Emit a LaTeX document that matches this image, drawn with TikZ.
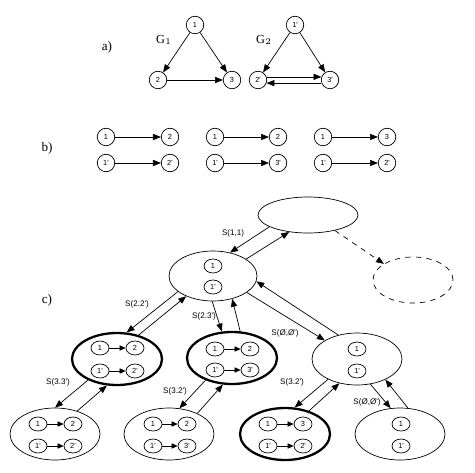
\documentclass[tikz,border=0pt]{standalone}
\usepackage{fontspec}
\setmainfont{Liberation Serif}
\newfontfamily\labfont{Liberation Sans}
\usetikzlibrary{shapes.geometric,arrows.meta}
\tikzset{
	vert/.style={circle,draw,inner sep=0pt,minimum size=0.35cm,font=\labfont\fontsize{4.2}{5}\selectfont},
	vin/.style={ellipse,draw,inner sep=0pt,minimum width=0.36cm,minimum height=0.28cm,font=\labfont\fontsize{4.2}{5}\selectfont},
	state/.style={ellipse,draw,inner sep=0pt,minimum width=1.8cm,minimum height=1.04cm},
	best/.style={state,line width=1.3pt},
	arr/.style={-{Triangle[length=4.5pt,width=3.5pt]}},
	sarr/.style={-{Triangle[length=3.5pt,width=3pt]}},
	slabel/.style={inner sep=0pt,font=\labfont\fontsize{4.6}{5.5}\selectfont},
	part/.style={inner sep=0pt,font=\fontsize{7.5}{8}\selectfont},
	gname/.style={inner sep=0pt,font=\fontsize{7}{8}\selectfont}
}

\begin{document}
\begin{tikzpicture}[x=0.02cm,y=-0.02cm]
	\useasboundingbox (0,0) rectangle (475,472);
	% a)
	\node[part] (pa) at (107,47){a)};
	\node[gname] (g1) at (164,40){G$_1$};
	\node[gname] (g2) at (264,40){G$_2$};
	\node[vert] (a1) at (195,25){1};
	\node[vert] (a2) at (158,80){2};
	\node[vert] (a3) at (232,80){3};
	\node[vert] (c1) at (295,25){1'};
	\node[vert] (c2) at (258,80){2'};
	\node[vert] (c3) at (330,80){3'};
	\draw[arr] (a1) -- (a2);
	\draw[arr] (a1) -- (a3);
	\draw[arr] (a2) -- (a3);
	\draw[arr] (c1) -- (c2);
	\draw[arr] (c1) -- (c3);
	\draw[arr] (c2.20) -- (c3.160);
	\draw[arr] (c3.200) -- (c2.340);
	% b)
	\node[part] (pb) at (47,148){b)};
	\node[vert] (b1) at (106,137){1};
	\node[vert] (b2) at (170,137){2};
	\node[vert] (b3) at (215,137){1};
	\node[vert] (b4) at (278,137){2};
	\node[vert] (b5) at (323,137){1};
	\node[vert] (b6) at (387,137){3};
	\node[vert] (d1) at (106,163){1'};
	\node[vert] (d2) at (170,163){2'};
	\node[vert] (d3) at (215,163){1'};
	\node[vert] (d4) at (278,163){3'};
	\node[vert] (d5) at (323,163){1'};
	\node[vert] (d6) at (387,163){2'};
	\draw[arr] (b1) -- (b2);
	\draw[arr] (b3) -- (b4);
	\draw[arr] (b5) -- (b6);
	\draw[arr] (d1) -- (d2);
	\draw[arr] (d3) -- (d4);
	\draw[arr] (d5) -- (d6);
	% c)
	\node[part] (pc) at (47,300){c)};
	\node[state,minimum width=2cm,minimum height=0.72cm] (top) at (308,215){};
	\node[state,dashed,minimum width=1.6cm,minimum height=0.92cm] (dash) at (413,280){};
	\node[state,minimum width=1.76cm,minimum height=1cm] (root) at (213,276){};
	\node[best] (L) at (117,359){};
	\node[best] (M) at (232,358){};
	\node[state] (R) at (357,359){};
	\node[state] (BL) at (55,434){};
	\node[state] (BM) at (169,434){};
	\node[best] (BT) at (285,434){};
	\node[state] (BR) at (400,434){};
	% vertices inside the states
	\node[vin] (r1) at (213,266){1};
	\node[vin] (r2) at (213,287){1'};
	\node[vin] (l1) at (100,348){1};
	\node[vin] (l2) at (135,348){2};
	\node[vin] (l3) at (100,371){1'};
	\node[vin] (l4) at (135,371){2'};
	\node[vin] (m1) at (215,349){1};
	\node[vin] (m2) at (250,349){2};
	\node[vin] (m3) at (215,370){1'};
	\node[vin] (m4) at (250,370){3'};
	\node[vin] (q1) at (357,349){1};
	\node[vin] (q2) at (357,371){1'};
	\node[vin] (e1) at (38,424){1};
	\node[vin] (e2) at (73,424){2};
	\node[vin] (e3) at (38,446){1'};
	\node[vin] (e4) at (73,446){2'};
	\node[vin] (f1) at (153,424){1};
	\node[vin] (f2) at (187,424){2};
	\node[vin] (f3) at (153,446){1'};
	\node[vin] (f4) at (187,446){3'};
	\node[vin] (h1) at (268,424){1};
	\node[vin] (h2) at (303,424){3};
	\node[vin] (h3) at (268,446){1'};
	\node[vin] (h4) at (303,446){2'};
	\node[vin] (k1) at (401,424){1};
	\node[vin] (k2) at (401,446){1'};
	\draw[sarr] (l1) -- (l2);
	\draw[sarr] (l3) -- (l4);
	\draw[sarr] (m1) -- (m2);
	\draw[sarr] (m3) -- (m4);
	\draw[sarr] (e1) -- (e2);
	\draw[sarr] (e3) -- (e4);
	\draw[sarr] (f1) -- (f2);
	\draw[sarr] (f3) -- (f4);
	\draw[sarr] (h1) -- (h2);
	\draw[sarr] (h3) -- (h4);
	% search steps
	\draw[arr] (top.197) -- (root.54);
	\draw[arr] (root.27) -- (top.222);
	\draw[arr,dashed] (top.330) -- (dash.151);
	\draw[arr] (root.204) -- (L.70);
	\draw[arr] (L.48) -- (root.217);
	\draw[arr] (root.268) -- (M.111);
	\draw[arr] (M.73) -- (root.310);
	\draw[arr] (root.334) -- (R.150);
	\draw[arr] (R.128) -- (root.353);
	\draw[arr] (L.216) -- (BL.90);
	\draw[arr] (BL.46) -- (L.249);
	\draw[arr] (M.220) -- (BM.68);
	\draw[arr] (BM.36) -- (M.251);
	\draw[arr] (R.215) -- (BT.70);
	\draw[arr] (BT.44) -- (R.234);
	\draw[arr] (R.298) -- (BR.110);
	\draw[arr] (BR.73) -- (R.324);
	\node[slabel] (s11) at (233,233){S(1,1)};
	\node[slabel] (s22) at (137,304){S(2.2')};
	\node[slabel] (s23) at (204,316){S(2.3')};
	\node[slabel] (s00) at (285,333){S(Ø,Ø')};
	\node[slabel] (s33) at (58,382){S(3.3')};
	\node[slabel] (s32) at (175,391){S(3.2')};
	\node[slabel] (t32) at (292,382){S(3.2')};
	\node[slabel] (t00) at (367,402){S(Ø,Ø')};
\end{tikzpicture}
\end{document}
